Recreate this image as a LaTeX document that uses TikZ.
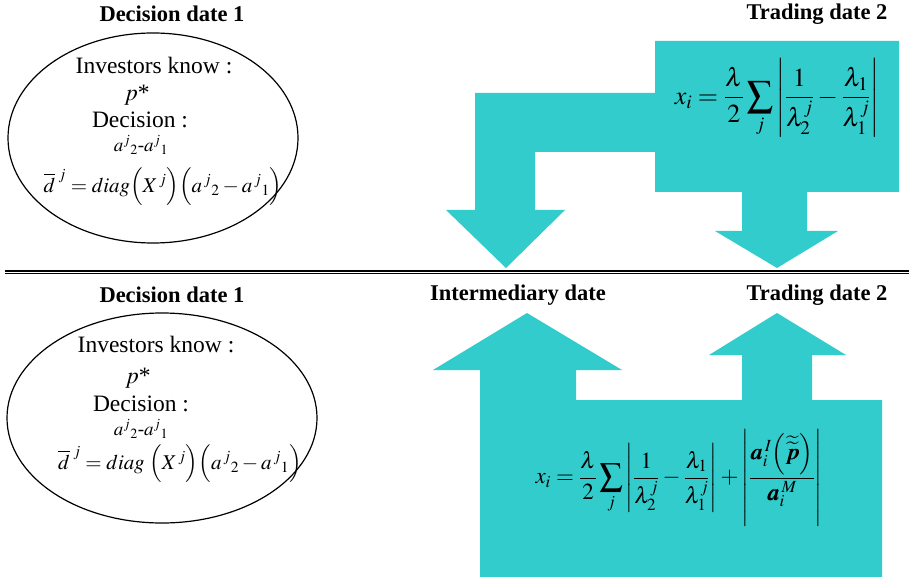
\documentclass[tikz,border=0pt]{standalone}
\usepackage{amsmath}
\usepackage{mathptmx}
\usepackage{bm}
\usepackage{fontspec}
\setmainfont{Liberation Serif}
\usetikzlibrary{shapes.geometric}
\definecolor{arrowteal}{RGB}{51,204,204}

\begin{document}
\begin{tikzpicture}[x=1pt, y=-1pt,
    datetitle/.style={inner sep=0pt, font=\fontsize{22.5}{26}\selectfont\bfseries},
    ellline/.style={inner sep=0pt, font=\fontsize{23.5}{27}\selectfont},
    tinyline/.style={inner sep=0pt, font=\fontsize{19}{21}\selectfont},
    mathline/.style={inner sep=0pt, font=\fontsize{21}{25}\selectfont},
    bubble/.style={draw, ellipse, line width=1.2pt, inner sep=0pt},
    formula/.style={inner sep=0pt, font=\fontsize{26}{30}\selectfont}]
    \useasboundingbox (0,0) rectangle (909,577);

    % upper half : decision date 1 -> trading date 2
    \node (dec1) [datetitle] at (172,14) {Decision date 1};
    \node (trade2) [datetitle] at (817,14) {Trading date 2};
    \node (know1) [bubble, minimum width=290pt, minimum height=210pt] at (153,138) {};
    \node (inv1) [ellline] at (154,66) {Investors know :};
    \node (pstar1) [ellline] at (137,95) {$p$*};
    \node (dec1txt) [ellline] at (140,120) {Decision :};
    \node (diff1) [tinyline] at (141,145) {$a^j{}_2$-$a^j{}_1$};
    \node (dbar1) [mathline] at (163,187) {$\overline{d}^{\;j} = diag\Big(X^{\,j}\Big)\Big(a^{\,j}{}_2 - a^{\,j}{}_1\Big)$};

    \fill[arrowteal] (655,41) -- (899,41) -- (899,192) -- (807,192) -- (807,231)
        -- (838,231) -- (777,268) -- (715,231) -- (742,231) -- (742,192)
        -- (655,192) -- (655,152) -- (535,152) -- (535,210) -- (565,210)
        -- (506,268) -- (446,210) -- (475,210) -- (475,93) -- (655,93) -- cycle;
    \node (xtop) [formula] at (777,98)
        {$\displaystyle x_i = \frac{\lambda}{2}\sum_j \left|\frac{1}{\lambda_2^j} - \frac{\lambda_1}{\lambda_1^j}\right|$};

    % separation
    \coordinate (sepL) at (5,272);
    \coordinate (sepR) at (909,272);
    \draw[double, double distance=1pt, line width=1.1pt] (sepL) -- (sepR);

    % lower half : decision date 1 -> intermediary date -> trading date 2
    \node (dec1b) [datetitle] at (172,295) {Decision date 1};
    \node (inter) [datetitle] at (518,295) {Intermediary date};
    \node (trade2b) [datetitle] at (817,295) {Trading date 2};
    \node (know2) [bubble, minimum width=310pt, minimum height=210pt] at (162,418) {};
    \node (inv2) [ellline] at (156,345) {Investors know :};
    \node (pstar2) [ellline] at (138,378) {$p$*};
    \node (dec2txt) [ellline] at (141,404) {Decision :};
    \node (diff2) [tinyline] at (141,429) {$a^j{}_2$-$a^j{}_1$};
    \node (dbar2) [mathline] at (180,464) {$\overline{d}^{\;j} = diag\;\Big(X^{\,j}\Big)\Big(a^{\,j}{}_2 - a^{\,j}{}_1\Big)$};

    \fill[arrowteal] (480,577) -- (480,370) -- (433,370) -- (527,313) -- (622,370)
        -- (576,370) -- (576,400) -- (742,400) -- (742,355) -- (709,355)
        -- (777,313) -- (846,355) -- (812,355) -- (812,400) -- (882,400)
        -- (882,577) -- cycle;
    \node (xbot) [formula, font=\fontsize{23}{27}\selectfont] at (679,478)
        {$\displaystyle x_i = \frac{\lambda}{2}\sum_j \left|\frac{1}{\lambda_2^j} - \frac{\lambda_1}{\lambda_1^j}\right| + \left|\frac{\bm{a}_i^{\,I}\Big(\widetilde{\widetilde{\bm{p}}}\Big)}{\bm{a}_i^{\,M}}\right|$};
\end{tikzpicture}
\end{document}
